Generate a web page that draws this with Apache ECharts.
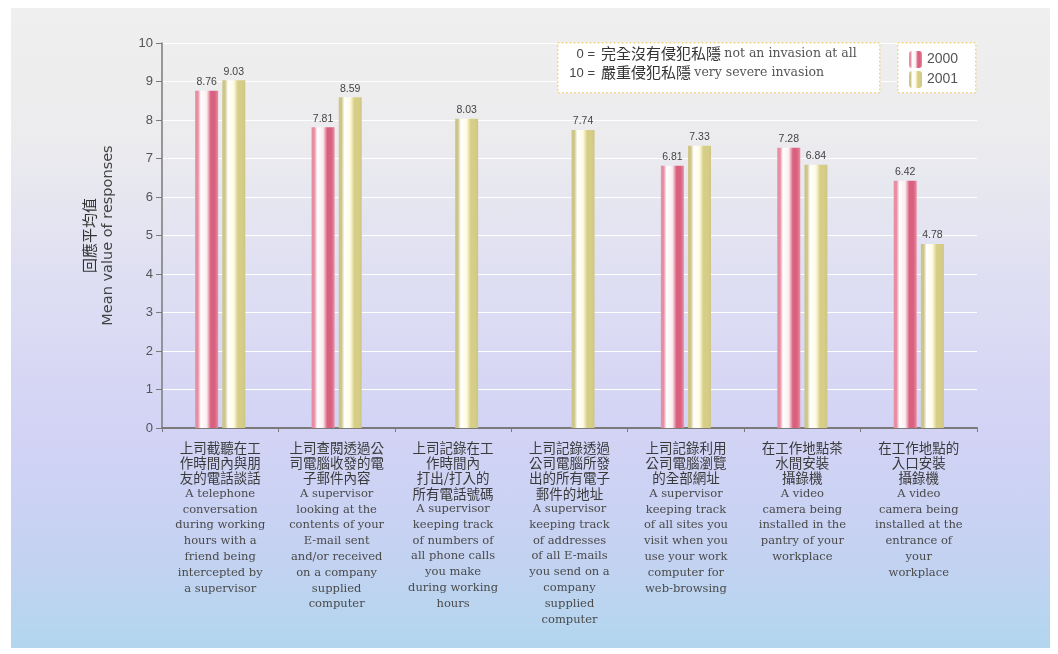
<!DOCTYPE html>
<html>
<head>
<meta charset="utf-8">
<script src="https://cdn.jsdelivr.net/npm/echarts@6/dist/echarts.min.js"></script>
<style>
  html, body { margin: 0; padding: 0; background: #ffffff; }
  #wrap { position: relative; width: 1058px; height: 654px; }
  #bg {
    position: absolute; left: 11px; top: 8px; right: 8px; bottom: 6px;
    background: linear-gradient(to bottom, #efefef 0%, #ececee 20%, #dfdff3 42%, #d3d3f5 65%, #c6d2f2 84%, #b2d6ee 100%);
  }
  #chart { position: absolute; left: 0; top: 0; width: 1058px; height: 654px; }
</style>
</head>
<body>
<div id="wrap">
  <div id="bg"></div>
  <div id="chart"></div>
</div>
<script>
// Survey items (Chinese line breaks, then English line breaks)
const categoriesZh = [
  ['上司截聽在工', '作時間內與朋', '友的電話談話'],
  ['上司查閱透過公', '司電腦收發的電', '子郵件內容'],
  ['上司記錄在工', '作時間內', '打出/打入的', '所有電話號碼'],
  ['上司記錄透過', '公司電腦所發', '出的所有電子', '郵件的地址'],
  ['上司記錄利用', '公司電腦瀏覽', '的全部網址'],
  ['在工作地點茶', '水間安裝', '攝錄機'],
  ['在工作地點的', '入口安裝', '攝錄機']
];
const categoriesEn = [
  ['A telephone', 'conversation', 'during working', 'hours with a', 'friend being', 'intercepted by', 'a supervisor'],
  ['A supervisor', 'looking at the', 'contents of your', 'E-mail sent', 'and/or received', 'on a company', 'supplied', 'computer'],
  ['A supervisor', 'keeping track', 'of numbers of', 'all phone calls', 'you make', 'during working', 'hours'],
  ['A supervisor', 'keeping track', 'of addresses', 'of all E-mails', 'you send on a', 'company', 'supplied', 'computer'],
  ['A supervisor', 'keeping track', 'of all sites you', 'visit when you', 'use your work', 'computer for', 'web-browsing'],
  ['A video', 'camera being', 'installed in the', 'pantry of your', 'workplace'],
  ['A video', 'camera being', 'installed at the', 'entrance of', 'your', 'workplace']
];

// Mean value of responses (0 = not an invasion at all, 10 = very severe invasion)
const values2000 = [8.76, 7.81, null, null, 6.81, 7.28, 6.42];
const values2001 = [9.03, 8.59, 8.03, 7.74, 7.33, 6.84, 4.78];

const yTicks = [0, 1, 2, 3, 4, 5, 6, 7, 8, 9, 10];
const seriesNames = ['2000', '2001'];

const categoryKeys = categoriesZh.map((_, i) => 'c' + i);

function cylinder(edge, mid, shade) {
  return new echarts.graphic.LinearGradient(0, 0, 1, 0, [
    { offset: 0, color: edge },
    { offset: 0.12, color: edge },
    { offset: 0.25, color: '#ffffff' },
    { offset: 0.5, color: mid },
    { offset: 0.68, color: shade },
    { offset: 0.85, color: shade },
    { offset: 1, color: edge }
  ]);
}
const color2000 = cylinder('#e88ea3', '#fbeef0', '#d9607f');
const color2001 = cylinder('#cdc688', '#fffbe2', '#d6ce86');

const valueLabel = {
  show: true,
  position: 'top',
  distance: 3,
  color: '#444',
  fontSize: 10.5,
  fontFamily: 'Liberation Sans, Arial, sans-serif',
  formatter: p => (p.value == null ? '' : p.value.toFixed(2))
};

const chart = echarts.init(document.getElementById('chart'), null, { renderer: 'canvas' });

chart.setOption({
  animation: false,
  backgroundColor: 'transparent',
  grid: { left: 162, right: 81, top: 43, bottom: 226, containLabel: false },
  legend: {
    show: true,
    orient: 'vertical',
    left: 904,
    top: 46,
    itemWidth: 13,
    itemHeight: 17,
    itemGap: 3,
    textStyle: { color: '#555', fontSize: 14, fontFamily: 'Liberation Sans, Arial, sans-serif' },
    data: seriesNames
  },
  xAxis: {
    type: 'category',
    data: categoryKeys,
    axisLine: { lineStyle: { color: '#7a7a7a', width: 2 } },
    axisTick: { show: true, length: 4, lineStyle: { color: '#7a7a7a' } },
    axisLabel: {
      interval: 0,
      margin: 12,
      color: '#444',
      formatter: (v, i) => {
        const zh = categoriesZh[i].map(s => '{zh|' + s + '}').join('\n');
        const en = categoriesEn[i].map(s => '{en|' + s + '}').join('\n');
        return zh + '\n' + en;
      },
      rich: {
        zh: { fontFamily: 'Noto Sans CJK TC', fontSize: 13.5, lineHeight: 15.3, color: '#3a3a3a' },
        en: { fontFamily: 'DejaVu Serif', fontSize: 11.5, lineHeight: 15.8, color: '#4a4a4a' }
      }
    }
  },
  yAxis: {
    type: 'value',
    min: 0,
    max: 10,
    interval: 1,
    name: '{zh|回應平均值}\n{en|Mean value of responses}',
    nameLocation: 'middle',
    nameRotate: 90,
    nameGap: 44,
    nameTextStyle: {
      rich: {
        zh: { fontFamily: 'Noto Sans CJK TC', fontSize: 15, color: '#333', lineHeight: 19 },
        en: { fontFamily: 'DejaVu Sans', fontSize: 14.5, color: '#444', lineHeight: 19 }
      }
    },
    axisLine: { show: true, lineStyle: { color: '#7a7a7a', width: 1.5 } },
    axisTick: { show: true, length: 6, inside: false, lineStyle: { color: '#7a7a7a' } },
    axisLabel: {
      margin: 9,
      color: '#555',
      fontSize: 13,
      fontFamily: 'Liberation Sans, Arial, sans-serif',
      formatter: v => (yTicks.indexOf(v) >= 0 ? String(v) : '')
    },
    splitLine: { show: true, lineStyle: { color: '#ffffff', width: 1.2 } }
  },
  series: [
    {
      name: seriesNames[0],
      type: 'bar',
      data: values2000,
      barWidth: 23,
      barGap: '18%',
      itemStyle: { color: color2000 },
      label: valueLabel
    },
    {
      name: seriesNames[1],
      type: 'bar',
      data: values2001,
      barWidth: 23,
      itemStyle: { color: color2001 },
      label: valueLabel
    }
  ],
  graphic: [
    // scale explanation box
    {
      type: 'rect',
      left: 557, top: 42,
      shape: { width: 322, height: 50 },
      style: { fill: '#ffffff', stroke: '#f0d07a', lineWidth: 1.5, lineDash: [1.5, 2.5] },
      z: 1
    },
    // series legend box
    {
      type: 'rect',
      left: 897, top: 42,
      shape: { width: 78, height: 50 },
      style: { fill: '#ffffff', stroke: '#f0d07a', lineWidth: 1.5, lineDash: [1.5, 2.5] },
      z: 1
    },
    {
      type: 'text', right: 1058 - 595, top: 48, z: 5,
      style: { text: '0 =', fill: '#444', font: '13px Liberation Sans, Arial, sans-serif', textAlign: 'right' }
    },
    {
      type: 'text', right: 1058 - 595, top: 67, z: 5,
      style: { text: '10 =', fill: '#444', font: '13px Liberation Sans, Arial, sans-serif', textAlign: 'right' }
    },
    {
      type: 'text', left: 601, top: 46, z: 5,
      style: {
        text: '{zh|完全沒有侵犯私隱} {en|not an invasion at all}',
        rich: {
          zh: { fontFamily: 'Noto Sans CJK TC', fontSize: 15, fill: '#333', lineHeight: 19, verticalAlign: 'middle' },
          en: { fontFamily: 'DejaVu Serif', fontSize: 12.5, fill: '#555', lineHeight: 19, verticalAlign: 'middle' }
        }
      }
    },
    {
      type: 'text', left: 601, top: 65, z: 5,
      style: {
        text: '{zh|嚴重侵犯私隱} {en|very severe invasion}',
        rich: {
          zh: { fontFamily: 'Noto Sans CJK TC', fontSize: 15, fill: '#333', lineHeight: 19, verticalAlign: 'middle' },
          en: { fontFamily: 'DejaVu Serif', fontSize: 12.5, fill: '#555', lineHeight: 19, verticalAlign: 'middle' }
        }
      }
    }
  ]
});
</script>
</body>
</html>
